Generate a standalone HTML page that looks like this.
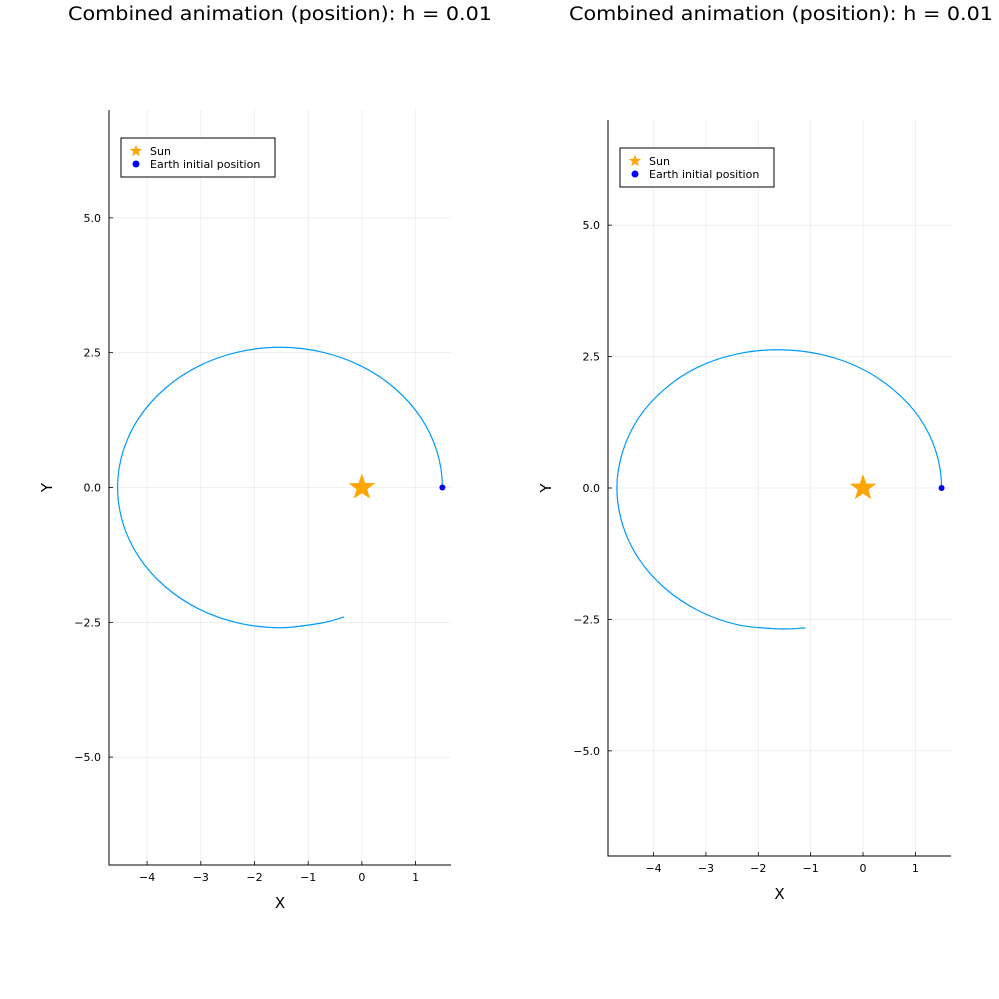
<!DOCTYPE html>
<html><head><meta charset="utf-8"><style>
body{margin:0;background:#fff}
svg{display:block;font-family:"DejaVu Sans","Liberation Sans",sans-serif}
</style></head><body>
<svg id="c" width="999" height="999"></svg>
<script>
const xTicks=[-4,-3,-2,-1,0,1];
const yTicks=[-5,-2.5,0,2.5,5];
const yTickLabels=["\u22125.0","\u22122.5","0.0","2.5","5.0"];
const xTickLabels=["\u22124","\u22123","\u22122","\u22121","0","1"];
const orbitLeftX=[1.5,1.397,1.095,0.614,-0.013,-0.742,-1.525,-2.308,-3.038,-3.664,-4.145,-4.447,-4.55,-4.447,-4.145,-3.664,-3.038,-2.308,-1.525,-0.742,-0.33];
const orbitLeftY=[0,0.673,1.30,1.838,2.252,2.511,2.6,2.511,2.252,1.838,1.30,0.673,0,-0.673,-1.30,-1.838,-2.252,-2.511,-2.6,-2.511,-2.40];
const orbitRightX=[1.5,1.395,1.085,0.592,-0.05,-0.80,-1.60,-2.40,-3.15,-3.79,-4.28,-4.59,-4.70,-4.59,-4.28,-3.79,-3.15,-2.40,-1.60,-1.1];
const orbitRightY=[0,0.686,1.325,1.86,2.28,2.54,2.63,2.55,2.30,1.88,1.34,0.69,0,-0.70,-1.35,-1.90,-2.33,-2.60,-2.68,-2.66];
const sun=[0,0];
const earth=[1.5,0];

const svg=document.getElementById('c');
const NS='http://www.w3.org/2000/svg';
function mk(t,a,p){const e=document.createElementNS(NS,t);for(const k in a)e.setAttribute(k,a[k]);(p||svg).appendChild(e);return e;}
function star(cx,cy,R){let p=[];for(let i=0;i<10;i++){const r=i%2?R*0.4:R;const a=-Math.PI/2+i*Math.PI/5;p.push((cx+r*Math.cos(a)).toFixed(1)+','+(cy+r*Math.sin(a)).toFixed(1));}return p.join(' ');}
function smooth(pts){let d='M'+pts[0][0]+','+pts[0][1];
  const first=[pts[1][0],2*pts[0][1]-pts[1][1]];
  for(let i=0;i<pts.length-1;i++){const p0=i===0?first:pts[i-1],p1=pts[i],p2=pts[i+1],p3=pts[Math.min(pts.length-1,i+2)];d+=' C'+(p1[0]+(p2[0]-p0[0])/6)+','+(p1[1]+(p2[1]-p0[1])/6)+' '+(p2[0]-(p3[0]-p1[0])/6)+','+(p2[1]-(p3[1]-p1[1])/6)+' '+p2[0]+','+p2[1];}return d;}

function panel(cfg,name){
  const g=mk('g',{});
  
  
  const sx=v=>cfg.L+(v-cfg.x0)/(cfg.x1-cfg.x0)*(cfg.R-cfg.L);
  const sy=v=>cfg.B-(v-cfg.y0)/(cfg.y1-cfg.y0)*(cfg.B-cfg.T);
  const t=mk('text',{x:cfg.tx,y:20,'font-size':18.5,fill:'#000',textLength:424,lengthAdjust:'spacingAndGlyphs'},g);t.textContent='Combined animation (position): h = 0.01';
  
  xTicks.forEach((v,i)=>{const x=sx(v);
    const l=mk('line',{x1:x,x2:x,y1:cfg.T,y2:cfg.B,stroke:'#000','stroke-opacity':0.1,'stroke-width':0.6},g);
    
    mk('line',{x1:x,x2:x,y1:cfg.B,y2:cfg.B-4,stroke:'#000','stroke-width':0.8},g);
    const tt=mk('text',{x:x,y:cfg.B+16,'font-size':11,'text-anchor':'middle'},g);tt.textContent=xTickLabels[i];
    });
  yTicks.forEach((v,i)=>{const y=sy(v);
    const l=mk('line',{x1:cfg.L,x2:cfg.R,y1:y,y2:y,stroke:'#000','stroke-opacity':0.1,'stroke-width':0.6},g);
    
    mk('line',{x1:cfg.L,x2:cfg.L+4,y1:y,y2:y,stroke:'#000','stroke-width':0.8},g);
    const tt=mk('text',{x:cfg.L-8,y:y+4,'font-size':11,'text-anchor':'end'},g);tt.textContent=yTickLabels[i];
    });
  const ax=mk('path',{d:`M${cfg.L},${cfg.T} V${cfg.B} H${cfg.R}`,fill:'none',stroke:'#000','stroke-width':1},g);
  
  const xl=mk('text',{x:(cfg.L+cfg.R)/2,y:cfg.B+43,'font-size':15,'text-anchor':'middle'},g);xl.textContent='X';
  
  const yl=mk('text',{x:cfg.L-62,y:sy(0)+5,'font-size':15,'text-anchor':'middle',transform:`rotate(-90 ${cfg.L-62} ${sy(0)})`},g);yl.textContent='Y';
  
  const pts=cfg.ox.map((v,i)=>[sx(v),sy(cfg.oy[i])]);
  const o=mk('path',{d:smooth(pts),fill:'none',stroke:'#009af9','stroke-width':1.2},g);
  
  const s=mk('polygon',{points:star(sx(sun[0]),sy(sun[1]),14),fill:'#ffa500'},g);
  
  const e=mk('circle',{cx:sx(earth[0]),cy:sy(earth[1]),r:3,fill:'#0000ff'},g);
  
  const lg=mk('g',{},g);
  mk('rect',{x:cfg.lx,y:cfg.ly,width:154,height:39,fill:'#fff',stroke:'#000','stroke-width':1},lg);
  mk('polygon',{points:star(cfg.lx+15,cfg.ly+13,6.5),fill:'#ffa500'},lg);
  const a=mk('text',{x:cfg.lx+29,y:cfg.ly+17,'font-size':11},lg);a.textContent='Sun';
  
  mk('circle',{cx:cfg.lx+15,cy:cfg.ly+26,r:3.5,fill:'#0000ff'},lg);
  const b=mk('text',{x:cfg.lx+29,y:cfg.ly+30,'font-size':11},lg);b.textContent='Earth initial position';
  
}
panel({L:109,R:451,T:110,B:865,x0:-4.71,x1:1.66,y0:-7,y1:7,tx:68,lx:121,ly:138,ox:orbitLeftX,oy:orbitLeftY},'left-panel');
panel({L:608,R:951,T:120,B:856,x0:-4.87,x1:1.68,y0:-7,y1:7,tx:569,lx:620,ly:148,ox:orbitRightX,oy:orbitRightY},'right-panel');
</script>
</body></html>
